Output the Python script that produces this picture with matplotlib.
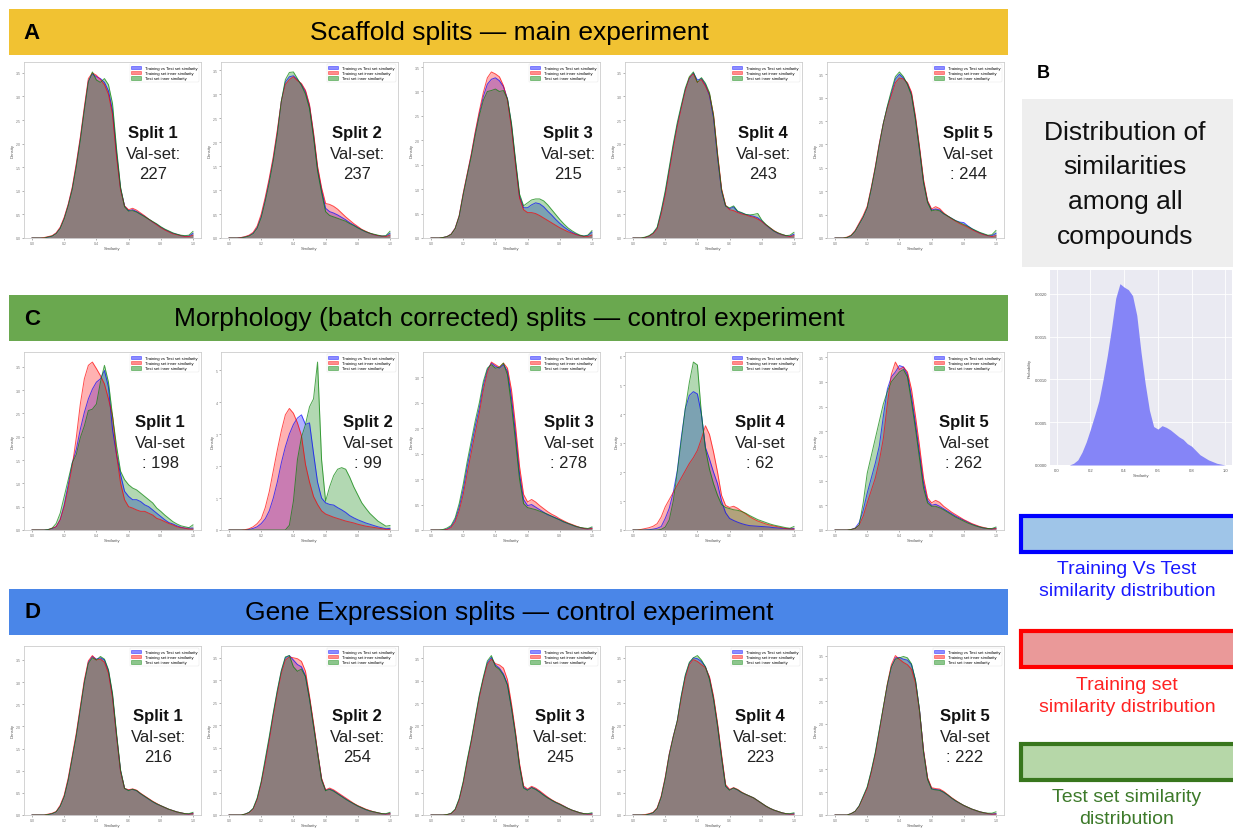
import numpy as np
import matplotlib
matplotlib.use("Agg")
import matplotlib.pyplot as plt
from matplotlib.patches import Rectangle, Patch

plt.rcParams["font.family"] = ["Liberation Sans", "DejaVu Sans"]

W, H = 1233, 829

# similarity grid shared by every density curve (0.0 .. 1.0, step 0.025)
SIMILARITY = np.linspace(0.0, 1.0, 41)

# ---- scaffold splits (density of pairwise similarity) ----
A1_TVT = [0, 0, 0, 0, 0.02, 0.04, 0.10, 0.21, 0.42, 0.70, 1.05, 1.54, 2.10, 2.73, 3.33, 3.48, 3.42, 3.38, 3.30, 3.12,
          2.70, 1.80, 1.05, 0.68, 0.58, 0.60, 0.56, 0.51, 0.46, 0.40, 0.34, 0.29, 0.23, 0.18, 0.14, 0.10, 0.08, 0.05, 0.04, 0.04, 0.10]
A1_TRAIN = [0, 0, 0, 0.01, 0.03, 0.05, 0.11, 0.23, 0.44, 0.72, 1.08, 1.58, 2.14, 2.78, 3.38, 3.50, 3.45, 3.36, 3.25, 3.05,
            2.62, 1.72, 1.02, 0.68, 0.60, 0.63, 0.59, 0.53, 0.47, 0.40, 0.34, 0.28, 0.22, 0.17, 0.13, 0.09, 0.07, 0.05, 0.03, 0.03, 0.06]
A1_TEST = [0, 0, 0, 0, 0.02, 0.04, 0.09, 0.20, 0.40, 0.68, 1.02, 1.50, 2.06, 2.70, 3.30, 3.52, 3.35, 3.30, 3.38, 3.25,
           2.85, 1.90, 1.08, 0.66, 0.57, 0.58, 0.55, 0.50, 0.45, 0.40, 0.35, 0.30, 0.24, 0.19, 0.15, 0.11, 0.08, 0.06, 0.05, 0.06, 0.14]

A2_TVT = [0, 0, 0, 0.01, 0.02, 0.05, 0.10, 0.22, 0.45, 0.80, 1.20, 1.65, 2.20, 2.85, 3.25, 3.36, 3.38, 3.30, 3.20, 3.05,
          2.75, 2.15, 1.45, 1.00, 0.62, 0.55, 0.52, 0.48, 0.43, 0.38, 0.32, 0.27, 0.22, 0.17, 0.13, 0.10, 0.07, 0.05, 0.04, 0.04, 0.10]
A2_TRAIN = [0, 0, 0, 0.01, 0.03, 0.06, 0.12, 0.25, 0.50, 0.85, 1.25, 1.70, 2.25, 2.85, 3.20, 3.30, 3.36, 3.28, 3.22, 3.08,
            2.78, 2.20, 1.50, 1.05, 0.72, 0.70, 0.66, 0.60, 0.52, 0.44, 0.37, 0.30, 0.24, 0.18, 0.14, 0.10, 0.07, 0.05, 0.04, 0.03, 0.06]
A2_TEST = [0, 0, 0, 0, 0.02, 0.04, 0.09, 0.20, 0.42, 0.76, 1.15, 1.60, 2.15, 2.85, 3.30, 3.45, 3.46, 3.32, 3.18, 3.00,
           2.70, 2.10, 1.40, 0.95, 0.55, 0.47, 0.44, 0.41, 0.38, 0.35, 0.30, 0.26, 0.21, 0.17, 0.13, 0.10, 0.08, 0.06, 0.04, 0.05, 0.14]

A3_TVT = [0, 0, 0, 0.01, 0.03, 0.08, 0.20, 0.45, 0.90, 1.30, 1.70, 2.15, 2.55, 2.90, 3.15, 3.25, 3.28, 3.22, 3.10, 2.85,
          2.30, 1.55, 0.85, 0.62, 0.62, 0.68, 0.72, 0.70, 0.64, 0.55, 0.47, 0.38, 0.30, 0.23, 0.17, 0.12, 0.08, 0.05, 0.04, 0.05, 0.12]
A3_TRAIN = [0, 0, 0, 0.01, 0.03, 0.08, 0.20, 0.46, 0.92, 1.32, 1.72, 2.18, 2.60, 2.98, 3.28, 3.40, 3.36, 3.30, 3.12, 2.82,
            2.25, 1.50, 0.82, 0.58, 0.52, 0.52, 0.50, 0.46, 0.41, 0.36, 0.31, 0.26, 0.21, 0.17, 0.13, 0.10, 0.07, 0.05, 0.03, 0.03, 0.06]
A3_TEST = [0, 0, 0, 0.01, 0.03, 0.07, 0.19, 0.44, 0.88, 1.28, 1.66, 2.10, 2.50, 2.82, 3.00, 3.02, 3.05, 3.00, 3.02, 2.85,
           2.35, 1.60, 0.90, 0.66, 0.72, 0.78, 0.80, 0.80, 0.76, 0.68, 0.58, 0.48, 0.38, 0.29, 0.21, 0.15, 0.10, 0.06, 0.04, 0.06, 0.15]

A4_TVT = [0, 0, 0, 0.01, 0.04, 0.10, 0.21, 0.55, 0.95, 1.45, 1.95, 2.40, 2.78, 3.15, 3.38, 3.50, 3.35, 3.38, 3.25, 3.02,
          2.55, 1.72, 1.00, 0.68, 0.62, 0.66, 0.56, 0.53, 0.50, 0.48, 0.46, 0.43, 0.36, 0.28, 0.21, 0.15, 0.10, 0.07, 0.05, 0.04, 0.08]
A4_TRAIN = [0, 0, 0, 0.01, 0.04, 0.09, 0.19, 0.50, 0.90, 1.40, 1.90, 2.36, 2.75, 3.12, 3.40, 3.48, 3.30, 3.36, 3.22, 3.05,
            2.62, 1.80, 1.05, 0.70, 0.60, 0.58, 0.54, 0.51, 0.49, 0.46, 0.44, 0.40, 0.35, 0.28, 0.22, 0.16, 0.11, 0.07, 0.05, 0.03, 0.05]
A4_TEST = [0, 0, 0, 0.02, 0.05, 0.11, 0.23, 0.58, 1.00, 1.50, 2.00, 2.45, 2.82, 3.18, 3.42, 3.52, 3.30, 3.40, 3.28, 3.08,
           2.60, 1.76, 1.02, 0.68, 0.64, 0.68, 0.57, 0.54, 0.50, 0.49, 0.50, 0.52, 0.38, 0.29, 0.22, 0.15, 0.11, 0.08, 0.05, 0.06, 0.12]

A5_TVT = [0, 0, 0, 0.01, 0.05, 0.15, 0.30, 0.45, 0.65, 1.05, 1.50, 2.00, 2.45, 2.80, 3.10, 3.40, 3.50, 3.42, 3.30, 3.08,
          2.55, 1.90, 1.20, 0.78, 0.60, 0.62, 0.60, 0.52, 0.47, 0.42, 0.37, 0.34, 0.33, 0.26, 0.20, 0.15, 0.11, 0.08, 0.05, 0.05, 0.10]
A5_TRAIN = [0, 0, 0, 0.02, 0.06, 0.16, 0.32, 0.48, 0.68, 1.08, 1.52, 2.02, 2.45, 2.78, 3.05, 3.32, 3.42, 3.40, 3.32, 3.12,
            2.60, 1.95, 1.25, 0.80, 0.62, 0.67, 0.63, 0.54, 0.47, 0.41, 0.36, 0.31, 0.27, 0.23, 0.18, 0.14, 0.10, 0.07, 0.05, 0.03, 0.05]
A5_TEST = [0, 0, 0, 0.01, 0.05, 0.14, 0.29, 0.44, 0.64, 1.04, 1.48, 1.98, 2.44, 2.82, 3.15, 3.45, 3.55, 3.45, 3.28, 3.05,
           2.52, 1.88, 1.18, 0.76, 0.58, 0.60, 0.58, 0.52, 0.47, 0.42, 0.37, 0.33, 0.29, 0.25, 0.20, 0.16, 0.12, 0.09, 0.06, 0.07, 0.16]

# ---- morphology (batch corrected) splits ----
C1_TVT = [0, 0, 0, 0, 0.01, 0.03, 0.07, 0.22, 0.54, 0.97, 1.44, 1.73, 2.16, 2.52, 2.81, 3.02, 3.17, 3.24, 3.42, 3.06,
          2.16, 1.62, 1.19, 0.83, 0.72, 0.65, 0.65, 0.61, 0.54, 0.50, 0.43, 0.36, 0.29, 0.22, 0.16, 0.13, 0.09, 0.06, 0.04, 0.04, 0.04]
C1_TRAIN = [0, 0, 0, 0, 0, 0.04, 0.07, 0.22, 0.50, 0.90, 1.37, 1.98, 2.70, 3.24, 3.53, 3.60, 3.46, 3.31, 3.13, 2.81,
            2.45, 1.62, 1.01, 0.65, 0.50, 0.47, 0.43, 0.40, 0.40, 0.36, 0.32, 0.25, 0.22, 0.18, 0.14, 0.11, 0.07, 0.05, 0.04, 0.02, 0.02]
C1_TEST = [0, 0, 0, 0, 0.01, 0.04, 0.14, 0.36, 0.72, 1.08, 1.44, 1.62, 1.98, 2.23, 2.56, 2.59, 2.70, 3.17, 3.53, 3.17,
           2.45, 1.80, 1.26, 1.08, 0.97, 0.90, 0.86, 0.79, 0.72, 0.65, 0.58, 0.47, 0.40, 0.32, 0.25, 0.18, 0.13, 0.09, 0.07, 0.05, 0.11]

C2_TVT = [0, 0, 0, 0, 0, 0.02, 0.05, 0.10, 0.20, 0.35, 0.60, 1.00, 1.50, 2.10, 2.60, 3.00, 3.30, 3.50, 3.60, 3.30,
          3.35, 2.40, 1.50, 1.00, 0.85, 0.80, 0.78, 0.70, 0.63, 0.55, 0.45, 0.38, 0.32, 0.27, 0.22, 0.18, 0.14, 0.10, 0.07, 0.04, 0.05]
C2_TRAIN = [0, 0, 0, 0, 0.01, 0.04, 0.10, 0.20, 0.35, 0.70, 1.20, 1.85, 2.50, 3.10, 3.60, 3.80, 3.65, 3.35, 2.95, 2.05,
            1.50, 1.05, 0.80, 0.60, 0.50, 0.45, 0.40, 0.36, 0.32, 0.28, 0.25, 0.22, 0.18, 0.15, 0.12, 0.10, 0.08, 0.06, 0.04, 0.02, 0.02]
C2_TEST = [0, 0, 0, 0, 0, 0, 0, 0, 0, 0, 0, 0, 0, 0, 0, 0.15, 0.90, 2.20, 2.90, 3.30,
           3.85, 4.10, 5.25, 2.20, 0.90, 1.35, 1.70, 1.90, 1.95, 1.90, 1.65, 1.35, 1.10, 0.85, 0.68, 0.52, 0.40, 0.28, 0.20, 0.12, 0.14]

C3_TVT = [0, 0, 0, 0, 0.02, 0.07, 0.20, 0.45, 0.80, 1.25, 1.65, 2.05, 2.40, 2.85, 3.15, 3.28, 3.22, 3.18, 3.25, 3.12,
          2.60, 1.90, 1.10, 0.60, 0.48, 0.50, 0.45, 0.40, 0.35, 0.30, 0.27, 0.24, 0.20, 0.16, 0.13, 0.10, 0.07, 0.05, 0.03, 0.02, 0.04]
C3_TRAIN = [0, 0, 0, 0, 0.01, 0.05, 0.16, 0.38, 0.70, 1.12, 1.52, 1.92, 2.30, 2.75, 3.10, 3.30, 3.25, 3.20, 3.28, 3.18,
            2.75, 2.05, 1.25, 0.70, 0.55, 0.60, 0.55, 0.48, 0.42, 0.36, 0.31, 0.27, 0.22, 0.18, 0.14, 0.11, 0.08, 0.05, 0.03, 0.02, 0.03]
C3_TEST = [0, 0, 0, 0.01, 0.04, 0.09, 0.24, 0.52, 0.90, 1.35, 1.75, 2.15, 2.50, 2.92, 3.18, 3.25, 3.18, 3.20, 3.28, 3.05,
           2.45, 1.75, 1.00, 0.52, 0.44, 0.42, 0.40, 0.37, 0.34, 0.31, 0.27, 0.23, 0.20, 0.16, 0.13, 0.10, 0.07, 0.05, 0.04, 0.03, 0.06]

C4_TVT = [0, 0, 0, 0, 0.01, 0.03, 0.06, 0.12, 0.40, 0.75, 1.30, 2.05, 3.20, 4.20, 4.65, 4.78, 4.70, 4.00, 2.85, 2.45,
          2.00, 1.60, 1.00, 0.60, 0.40, 0.33, 0.27, 0.22, 0.18, 0.15, 0.14, 0.13, 0.12, 0.11, 0.10, 0.08, 0.07, 0.06, 0.05, 0.04, 0.05]
C4_TRAIN = [0, 0, 0.02, 0.05, 0.08, 0.13, 0.22, 0.45, 0.80, 1.05, 1.30, 1.55, 1.80, 2.05, 2.30, 2.50, 2.75, 3.15, 3.60, 3.30,
            2.70, 2.00, 1.20, 0.85, 0.78, 0.82, 0.75, 0.65, 0.56, 0.46, 0.38, 0.31, 0.26, 0.21, 0.17, 0.14, 0.11, 0.08, 0.05, 0.04, 0.03]
C4_TEST = [0, 0, 0, 0, 0, 0, 0, 0.02, 0.10, 0.35, 1.00, 2.00, 3.10, 4.20, 5.10, 5.80, 5.70, 4.00, 2.80, 2.10,
           1.60, 1.20, 0.88, 0.78, 0.74, 0.70, 0.68, 0.64, 0.58, 0.50, 0.43, 0.36, 0.31, 0.26, 0.21, 0.17, 0.14, 0.11, 0.08, 0.06, 0.12]

C5_TVT = [0, 0, 0, 0, 0.01, 0.04, 0.15, 0.40, 0.75, 1.05, 1.35, 1.70, 2.30, 2.85, 3.10, 3.20, 3.33, 3.30, 3.15, 2.70,
          2.15, 1.55, 0.95, 0.60, 0.50, 0.52, 0.48, 0.43, 0.38, 0.33, 0.28, 0.24, 0.20, 0.16, 0.12, 0.09, 0.06, 0.04, 0.03, 0.02, 0.04]
C5_TRAIN = [0, 0, 0, 0, 0.01, 0.03, 0.10, 0.28, 0.55, 0.80, 1.05, 1.40, 1.85, 2.55, 3.15, 3.40, 3.25, 3.30, 3.20, 2.85,
            2.30, 1.70, 1.05, 0.65, 0.55, 0.60, 0.56, 0.48, 0.42, 0.36, 0.31, 0.26, 0.21, 0.17, 0.13, 0.10, 0.07, 0.05, 0.03, 0.02, 0.03]
C5_TEST = [0, 0, 0, 0, 0.01, 0.03, 0.10, 0.55, 1.15, 1.50, 1.85, 2.20, 2.55, 2.80, 3.00, 3.10, 3.20, 3.25, 3.10, 2.60,
           2.05, 1.45, 0.85, 0.55, 0.48, 0.48, 0.45, 0.41, 0.36, 0.31, 0.26, 0.22, 0.18, 0.14, 0.11, 0.08, 0.06, 0.04, 0.03, 0.03, 0.06]

# ---- gene expression splits ----
D1_TVT = [0, 0, 0, 0, 0.01, 0.03, 0.07, 0.20, 0.42, 0.80, 1.30, 1.80, 2.40, 3.00, 3.45, 3.58, 3.52, 3.55, 3.50, 3.25,
          2.70, 1.80, 1.00, 0.60, 0.56, 0.58, 0.55, 0.48, 0.42, 0.36, 0.30, 0.25, 0.21, 0.17, 0.13, 0.10, 0.07, 0.05, 0.03, 0.02, 0.04]
D1_TRAIN = [0, 0, 0, 0, 0.02, 0.04, 0.08, 0.22, 0.45, 0.84, 1.34, 1.85, 2.45, 3.05, 3.48, 3.60, 3.50, 3.52, 3.45, 3.20,
            2.65, 1.78, 0.98, 0.60, 0.57, 0.59, 0.56, 0.49, 0.43, 0.37, 0.31, 0.26, 0.21, 0.17, 0.13, 0.10, 0.07, 0.05, 0.03, 0.02, 0.03]
D1_TEST = [0, 0, 0, 0, 0.01, 0.03, 0.07, 0.19, 0.41, 0.78, 1.28, 1.78, 2.38, 2.98, 3.42, 3.55, 3.50, 3.58, 3.52, 3.28,
           2.75, 1.85, 1.02, 0.60, 0.55, 0.58, 0.55, 0.48, 0.42, 0.36, 0.30, 0.25, 0.21, 0.17, 0.13, 0.10, 0.07, 0.05, 0.03, 0.03, 0.06]

D2_TVT = [0, 0, 0, 0, 0.02, 0.06, 0.14, 0.36, 0.72, 1.20, 1.70, 2.25, 2.75, 3.20, 3.50, 3.55, 3.45, 3.35, 3.30, 3.10,
          2.60, 2.00, 1.40, 0.80, 0.55, 0.58, 0.54, 0.48, 0.42, 0.36, 0.30, 0.25, 0.20, 0.16, 0.12, 0.09, 0.07, 0.05, 0.03, 0.02, 0.04]
D2_TRAIN = [0, 0, 0, 0, 0.02, 0.05, 0.13, 0.34, 0.70, 1.15, 1.65, 2.20, 2.70, 3.15, 3.45, 3.52, 3.50, 3.48, 3.42, 3.20,
            2.65, 2.05, 1.42, 0.82, 0.56, 0.60, 0.56, 0.50, 0.44, 0.38, 0.32, 0.26, 0.21, 0.17, 0.13, 0.10, 0.07, 0.05, 0.03, 0.02, 0.03]
D2_TEST = [0, 0, 0, 0, 0.02, 0.06, 0.15, 0.38, 0.75, 1.25, 1.75, 2.28, 2.78, 3.22, 3.52, 3.55, 3.30, 3.20, 3.25, 3.08,
           2.58, 1.98, 1.38, 0.78, 0.54, 0.57, 0.53, 0.47, 0.41, 0.35, 0.30, 0.25, 0.20, 0.16, 0.12, 0.09, 0.07, 0.05, 0.03, 0.03, 0.06]

D3_TVT = [0, 0, 0, 0, 0.01, 0.03, 0.12, 0.35, 0.72, 1.20, 1.65, 2.15, 2.65, 3.05, 3.40, 3.52, 3.35, 3.28, 3.15, 2.92,
          2.40, 1.80, 1.10, 0.62, 0.56, 0.62, 0.58, 0.52, 0.45, 0.39, 0.33, 0.28, 0.24, 0.20, 0.15, 0.11, 0.08, 0.05, 0.03, 0.02, 0.03]
D3_TRAIN = [0, 0, 0, 0, 0.01, 0.03, 0.11, 0.33, 0.70, 1.18, 1.62, 2.12, 2.62, 3.02, 3.36, 3.48, 3.38, 3.35, 3.28, 3.02,
            2.48, 1.85, 1.15, 0.65, 0.58, 0.64, 0.60, 0.54, 0.47, 0.40, 0.34, 0.29, 0.25, 0.20, 0.15, 0.11, 0.08, 0.05, 0.03, 0.02, 0.02]
D3_TEST = [0, 0, 0, 0, 0.01, 0.04, 0.13, 0.37, 0.75, 1.24, 1.68, 2.18, 2.68, 3.08, 3.44, 3.56, 3.32, 3.25, 3.12, 2.90,
           2.38, 1.78, 1.08, 0.60, 0.55, 0.61, 0.57, 0.51, 0.44, 0.38, 0.33, 0.28, 0.24, 0.19, 0.15, 0.11, 0.08, 0.05, 0.03, 0.03, 0.05]

D4_TVT = [0, 0, 0, 0, 0.02, 0.05, 0.15, 0.40, 0.82, 1.35, 1.75, 2.10, 2.65, 3.10, 3.38, 3.50, 3.48, 3.42, 3.30, 3.05,
          2.60, 2.00, 1.30, 0.65, 0.56, 0.60, 0.56, 0.50, 0.46, 0.42, 0.38, 0.32, 0.26, 0.20, 0.15, 0.11, 0.08, 0.05, 0.03, 0.02, 0.03]
D4_TRAIN = [0, 0, 0, 0.01, 0.03, 0.06, 0.16, 0.42, 0.84, 1.36, 1.75, 2.08, 2.60, 3.05, 3.35, 3.46, 3.42, 3.35, 3.28, 3.08,
            2.65, 2.05, 1.35, 0.68, 0.57, 0.61, 0.57, 0.51, 0.46, 0.42, 0.38, 0.32, 0.26, 0.20, 0.15, 0.11, 0.08, 0.05, 0.03, 0.02, 0.02]
D4_TEST = [0, 0, 0, 0, 0.02, 0.05, 0.14, 0.39, 0.80, 1.33, 1.73, 2.10, 2.66, 3.12, 3.40, 3.50, 3.55, 3.45, 3.30, 3.02,
           2.58, 1.98, 1.28, 0.64, 0.55, 0.60, 0.56, 0.50, 0.46, 0.42, 0.38, 0.32, 0.26, 0.20, 0.15, 0.11, 0.08, 0.05, 0.03, 0.03, 0.05]

D5_TVT = [0, 0, 0, 0, 0.03, 0.08, 0.20, 0.40, 0.60, 0.95, 1.35, 1.85, 2.35, 2.85, 3.25, 3.45, 3.46, 3.42, 3.40, 3.30,
          2.95, 2.30, 1.40, 0.80, 0.58, 0.56, 0.55, 0.50, 0.44, 0.37, 0.31, 0.26, 0.21, 0.17, 0.13, 0.10, 0.07, 0.05, 0.03, 0.02, 0.03]
D5_TRAIN = [0, 0, 0, 0, 0.03, 0.08, 0.19, 0.38, 0.58, 0.92, 1.32, 1.82, 2.35, 2.88, 3.30, 3.50, 3.42, 3.35, 3.30, 3.20,
            2.90, 2.28, 1.42, 0.82, 0.60, 0.58, 0.57, 0.52, 0.45, 0.38, 0.32, 0.26, 0.21, 0.17, 0.13, 0.10, 0.07, 0.05, 0.03, 0.02, 0.02]
D5_TEST = [0, 0, 0, 0, 0.03, 0.08, 0.20, 0.41, 0.62, 0.97, 1.37, 1.87, 2.37, 2.86, 3.25, 3.42, 3.45, 3.48, 3.45, 3.32,
           2.96, 2.30, 1.38, 0.78, 0.57, 0.55, 0.54, 0.50, 0.44, 0.37, 0.31, 0.26, 0.21, 0.17, 0.13, 0.10, 0.07, 0.05, 0.04, 0.04, 0.07]

# ---- all compounds, probability per similarity bin ----
ALL_PROB = [0, 0, 0, 0, 0.00002, 0.00006, 0.00015, 0.00027, 0.00042, 0.00058, 0.00075, 0.00100, 0.00128, 0.00160,
            0.00195, 0.00212, 0.00208, 0.00205, 0.00198, 0.00175, 0.00132, 0.00095, 0.00064, 0.00045, 0.00042,
            0.00046, 0.00044, 0.00041, 0.00037, 0.00033, 0.00030, 0.00025, 0.00022, 0.00017, 0.00012, 0.00009,
            0.00006, 0.00004, 0.00002, 0.00001, 0]

SCAFFOLD_VAL = [227, 237, 215, 243, 244]
MORPH_VAL = [198, 99, 278, 62, 262]
GENE_VAL = [216, 254, 245, 223, 222]
SCAFFOLD_FMT = [("Val-set:", "{}")] * 4 + [("Val-set", ": {}")]
MORPH_FMT = [("Val-set", ": {}")] * 5
GENE_FMT = [("Val-set:", "{}")] * 4 + [("Val-set", ": {}")]

CURVE_LABELS = ["Training vs Test set similarity", "Training set inner similarity", "Test set inner similarity"]
CURVE_COLORS = ["#0000ff", "#ff0000", "#008000"]

ROWS = [
    dict(letter="A", title="Scaffold splits \u2014 main experiment", bar="#f1c232", bar_top=10, top=63, height=176,
         text_x=[153, 357, 568, 763, 968],
         curves=[(A1_TVT, A1_TRAIN, A1_TEST), (A2_TVT, A2_TRAIN, A2_TEST), (A3_TVT, A3_TRAIN, A3_TEST),
                 (A4_TVT, A4_TRAIN, A4_TEST), (A5_TVT, A5_TRAIN, A5_TEST)],
         val=SCAFFOLD_VAL, fmt=SCAFFOLD_FMT),
    dict(letter="C", title="Morphology (batch corrected) splits \u2014 control experiment", bar="#6aa84f", bar_top=296,
         top=353, height=178, text_x=[160, 368, 569, 760, 964],
         curves=[(C1_TVT, C1_TRAIN, C1_TEST), (C2_TVT, C2_TRAIN, C2_TEST), (C3_TVT, C3_TRAIN, C3_TEST),
                 (C4_TVT, C4_TRAIN, C4_TEST), (C5_TVT, C5_TRAIN, C5_TEST)],
         val=MORPH_VAL, fmt=MORPH_FMT),
    dict(letter="D", title="Gene Expression splits \u2014 control experiment", bar="#4a86e8", bar_top=590, top=647,
         height=169, text_x=[158, 357, 560, 760, 965],
         curves=[(D1_TVT, D1_TRAIN, D1_TEST), (D2_TVT, D2_TRAIN, D2_TEST), (D3_TVT, D3_TRAIN, D3_TEST),
                 (D4_TVT, D4_TRAIN, D4_TEST), (D5_TVT, D5_TRAIN, D5_TEST)],
         val=GENE_VAL, fmt=GENE_FMT),
]
PANEL_LEFT = [24, 221, 423, 625, 827]
PANEL_W = 177

fig = plt.figure(figsize=(W / 100, H / 100), dpi=100)

# pixel-space canvas on top for bars, boxes and free text
canvas = fig.add_axes([0, 0, 1, 1])
canvas.set_xlim(0, W)
canvas.set_ylim(H, 0)
canvas.axis("off")
canvas.set_zorder(10)
canvas.patch.set_visible(False)


def px_axes(x0, y0, w, h):
    return fig.add_axes([x0 / W, 1 - (y0 + h) / H, w / W, h / H])


def density_panel(ax, curves):
    for vals, color in zip(curves, CURVE_COLORS):
        ax.fill_between(SIMILARITY, vals, color=color, alpha=0.3, lw=0)
        ax.plot(SIMILARITY, vals, color=color, lw=0.7, alpha=0.7)
    top = max(max(c) for c in curves)
    ax.set_xlim(-0.05, 1.05)
    ax.set_ylim(0, top * 1.06)
    ax.set_xticks([0, 0.2, 0.4, 0.6, 0.8, 1.0])
    ax.tick_params(labelsize=2.5, length=1.5, width=0.4, colors="#777777", pad=1)
    ax.set_xlabel("Similarity", fontsize=3, color="#555555", labelpad=0.5)
    ax.set_ylabel("Density", fontsize=3, color="#555555", labelpad=1)
    for sp in ax.spines.values():
        sp.set_color("#cccccc")
        sp.set_linewidth(0.6)
    handles = [Patch(facecolor=c, edgecolor=c, alpha=0.45, lw=0.6) for c in CURVE_COLORS]
    leg = ax.legend(handles, CURVE_LABELS, loc="upper right", fontsize=3, handlelength=2.4, handleheight=0.9,
                    labelspacing=0.25, borderpad=0.4, framealpha=0.85, edgecolor="#dddddd")
    leg.get_frame().set_linewidth(0.3)


for row in ROWS:
    canvas.add_patch(Rectangle((9, row["bar_top"]), 999, 46, facecolor=row["bar"], edgecolor="none"))
    canvas.text(32, row["bar_top"] + 23, row["letter"], ha="center", va="center", fontsize=16, fontweight="bold")
    canvas.text(509, row["bar_top"] + 23, row["title"], ha="center", va="center", fontsize=19)
    for i, curves in enumerate(row["curves"]):
        ax = px_axes(PANEL_LEFT[i], row["top"], PANEL_W, row["height"])
        density_panel(ax, curves)
        tx, ty = row["text_x"][i], row["top"] + 70
        first, second = row["fmt"][i]
        canvas.text(tx, ty, f"Split {i + 1}", ha="center", va="center", fontsize=12, fontweight="bold",
                    color="#111111")
        canvas.text(tx, ty + 21, first, ha="center", va="center", fontsize=12, color="#222222")
        canvas.text(tx, ty + 41, second.format(row["val"][i]), ha="center", va="center", fontsize=12,
                    color="#222222")

# panel B: distribution over all compounds
canvas.text(1043, 73, "B", ha="center", va="center", fontsize=13, fontweight="bold")
canvas.add_patch(Rectangle((1022, 100), 215, 168, facecolor="#eeeeee", edgecolor="none"))
for y, line in zip([133, 167, 202, 237], ["Distribution of", "similarities", "among all", "compounds"]):
    canvas.text(1125, y, line, ha="center", va="center", fontsize=19, color="#111111")

axb = px_axes(1050, 271, 182, 195)
axb.set_facecolor("#eaeaf2")
axb.grid(True, color="white", lw=0.6)
axb.set_axisbelow(True)
axb.fill_between(SIMILARITY, ALL_PROB, color="#8585f7", lw=0)
axb.set_xlim(-0.04, 1.04)
axb.set_ylim(0, 0.00228)
axb.set_xticks([0, 0.2, 0.4, 0.6, 0.8, 1.0])
axb.set_yticks([0, 0.0005, 0.001, 0.0015, 0.002])
axb.set_yticklabels(["0.0000", "0.0005", "0.0010", "0.0015", "0.0020"])
axb.tick_params(labelsize=3, length=0, colors="#555555", pad=2)
axb.set_xlabel("Similarity", fontsize=3, color="#555555", labelpad=1)
axb.set_ylabel("Probability", fontsize=3, color="#555555", labelpad=2)
for sp in axb.spines.values():
    sp.set_visible(False)

# colour key for the three distributions
KEY = [
    ("#9fc5e8", "#0000ff", "#1a1aff", 517, ["Training Vs Test", "similarity distribution"]),
    ("#ea9999", "#ff0000", "#ff2222", 632, ["Training set", "similarity distribution"]),
    ("#b6d7a8", "#38761d", "#3d7a2a", 745, ["Test set similarity", "distribution"]),
]
for face, edge, txt, y0, lines in KEY:
    canvas.add_patch(Rectangle((1021, y0), 230, 36, facecolor=face, edgecolor=edge, lw=3))
    for k, line in enumerate(lines):
        canvas.text(1127, y0 + 53 + k * 22, line, ha="center", va="center", fontsize=14, color=txt)

fig.savefig("out.png", dpi=100)
